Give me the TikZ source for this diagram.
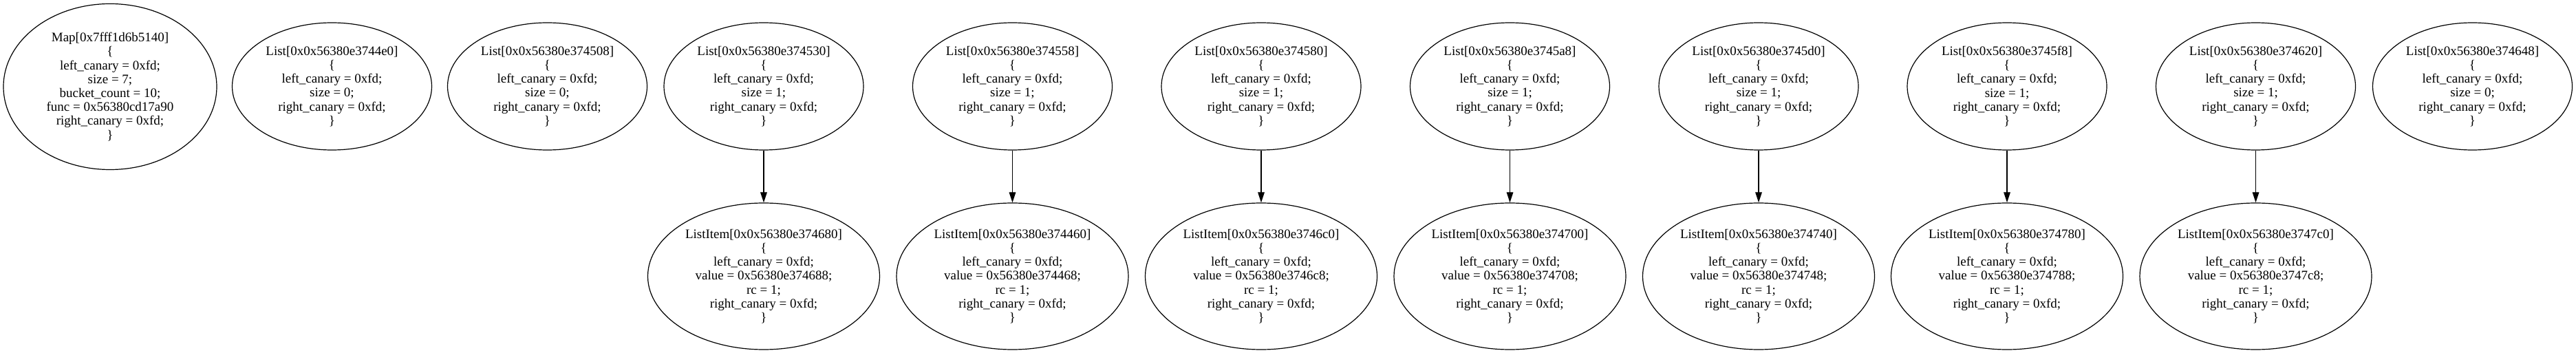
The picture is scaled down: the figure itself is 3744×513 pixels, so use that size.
\documentclass[tikz,border=0pt]{standalone}
\usepackage{fontspec}
\setmainfont{Liberation Serif}
\usepackage[svgnames,dvipsnames]{xcolor}
\usepackage{tikz}
\usetikzlibrary{arrows.meta,shapes.geometric,positioning}
\tikzset{>={Triangle[length=7.5pt,width=4.8pt]}}
\tikzset{
    obj/.style={draw,ellipse,inner xsep=-12pt,inner ysep=0pt,align=center,line width=0.6pt,
        font=\fontsize{9.5}{10.1}\selectfont},
    mapnode/.style={obj,minimum width=155pt,minimum height=120.5pt},
    listnode/.style={obj,minimum width=145pt,minimum height=92.5pt},
    itemnode/.style={obj,minimum width=168.5pt,minimum height=106.5pt}
}
\newcommand{\listtxt}[2]{List[0x0x56380e#1]\\\{\\left\_canary = 0xfd;\\size = #2;\\right\_canary = 0xfd;\\\}}
\newcommand{\itemtxt}[2]{ListItem[0x0x56380e#1]\\\{\\left\_canary = 0xfd;\\value = 0x56380e#2;\\rc = 1;\\right\_canary = 0xfd;\\\}}

\begin{document}
\begin{tikzpicture}[x=0.5pt,y=-0.5pt]
    \useasboundingbox (0,0) rectangle (3744,513);
    \node[mapnode] (hmap) at (160,126) {Map[0x7fff1d6b5140]\\\{\\left\_canary = 0xfd;\\size = 7;\\bucket\_count = 10;\\func = 0x56380cd17a90\\right\_canary = 0xfd;\\\}};
    \node[listnode] (l1) at (482.5,125.5) {\listtxt{3744e0}{0}};
    \node[listnode] (l2) at (795.5,125.5) {\listtxt{374508}{0}};
    \node[listnode] (l3) at (1110,125.5) {\listtxt{374530}{1}};
    \node[listnode] (l4) at (1471.5,125.5) {\listtxt{374558}{1}};
    \node[listnode] (l5) at (1833,125.5) {\listtxt{374580}{1}};
    \node[listnode] (l6) at (2194.5,125.5) {\listtxt{3745a8}{1}};
    \node[listnode] (l7) at (2556,125.5) {\listtxt{3745d0}{1}};
    \node[listnode] (l8) at (2917,125.5) {\listtxt{3745f8}{1}};
    \node[listnode] (l9) at (3278.5,125.5) {\listtxt{374620}{1}};
    \node[listnode] (l10) at (3593.5,125.5) {\listtxt{374648}{0}};
    \node[itemnode] (i3) at (1110,401.5) {\itemtxt{374680}{374688}};
    \node[itemnode] (i4) at (1471.5,401.5) {\itemtxt{374460}{374468}};
    \node[itemnode] (i5) at (1833,401.5) {\itemtxt{3746c0}{3746c8}};
    \node[itemnode] (i6) at (2194.5,401.5) {\itemtxt{374700}{374708}};
    \node[itemnode] (i7) at (2556,401.5) {\itemtxt{374740}{374748}};
    \node[itemnode] (i8) at (2917,401.5) {\itemtxt{374780}{374788}};
    \node[itemnode] (i9) at (3278.5,401.5) {\itemtxt{3747c0}{3747c8}};
    \draw[->,line width=0.6pt] (l3)--(i3);
    \draw[->,line width=0.6pt] (l4)--(i4);
    \draw[->,line width=0.6pt] (l5)--(i5);
    \draw[->,line width=0.6pt] (l6)--(i6);
    \draw[->,line width=0.6pt] (l7)--(i7);
    \draw[->,line width=0.6pt] (l8)--(i8);
    \draw[->,line width=0.6pt] (l9)--(i9);
\end{tikzpicture}
\end{document}
